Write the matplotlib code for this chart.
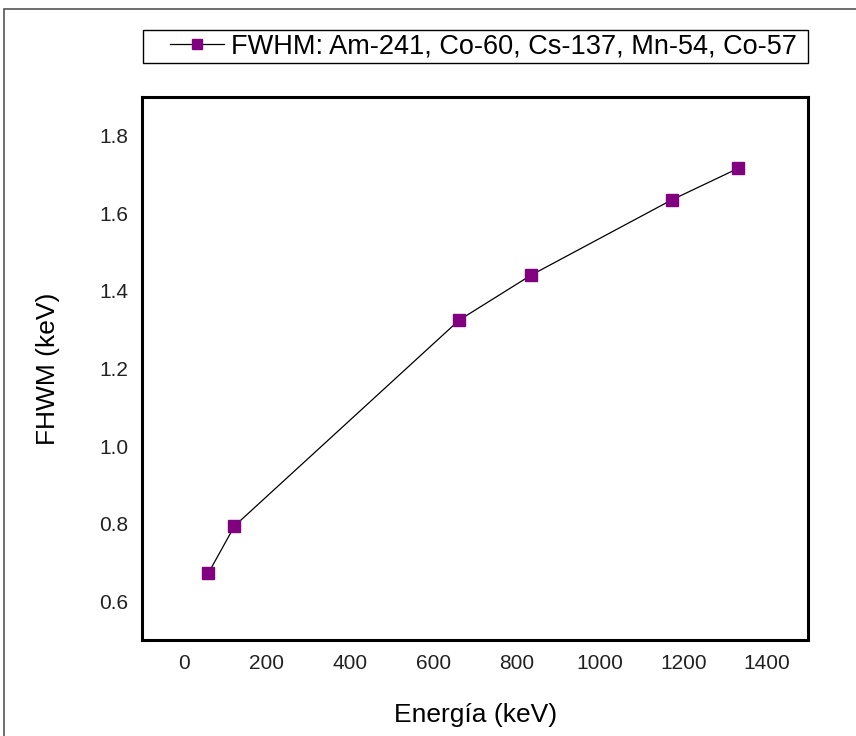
import matplotlib.pyplot as plt
from matplotlib.patches import Rectangle

plt.rcParams['font.family'] = ['Liberation Sans', 'DejaVu Sans']

# energia de los picos (keV) y FWHM medido (keV)
energia = [59.5, 122, 662, 835, 1173, 1332]
fwhm = [0.673, 0.794, 1.325, 1.441, 1.635, 1.716]
xticks = [0, 200, 400, 600, 800, 1000, 1200, 1400]
yticks = [0.6, 0.8, 1.0, 1.2, 1.4, 1.6, 1.8]

fig = plt.figure(figsize=(8.56, 7.36), dpi=100)
ax = fig.add_axes([0.166, 0.1304, 0.778, 0.7378])

ax.plot(energia, fwhm, color='black', linewidth=0.9, marker='s', markersize=8.5,
        markerfacecolor='#800080', markeredgecolor='#800080',
        label='FWHM: Am-241, Co-60, Cs-137, Mn-54, Co-57')

ax.set_xlim(-100, 1500)
ax.set_ylim(0.5, 1.9)
ax.set_xticks(xticks)
ax.set_yticks(yticks)
ax.set_yticklabels([f'{v:.1f}' for v in yticks])
ax.tick_params(length=0, labelsize=15, pad=10, colors='#222222')
for s in ax.spines.values():
    s.set_linewidth(2.2)

ax.set_xlabel('Energía (keV)', fontsize=19, labelpad=22)
ax.set_ylabel('FHWM (keV)', fontsize=19, labelpad=28)

# leyenda sin marco; el recuadro se dibuja aparte a lo ancho de los ejes
leg = fig.legend(loc='center left', bbox_to_anchor=(170 / 856, 1 - 46.5 / 736),
                 fontsize=19.5, frameon=False, handlelength=2.0,
                 handletextpad=0.26, borderpad=0, borderaxespad=0,
                 markerscale=0.8)
fig.patches.append(Rectangle((143 / 856, 1 - 63 / 736), 665 / 856, 33 / 736,
                             transform=fig.transFigure, fill=False,
                             edgecolor='black', linewidth=1.0))

# marco exterior
fig.patches.append(Rectangle((4 / 856, -0.1), 1.2, 1 - 9 / 736 + 0.1,
                             transform=fig.transFigure, fill=False,
                             edgecolor='#555555', linewidth=1.2))

fig.savefig('out.png', dpi=100)
